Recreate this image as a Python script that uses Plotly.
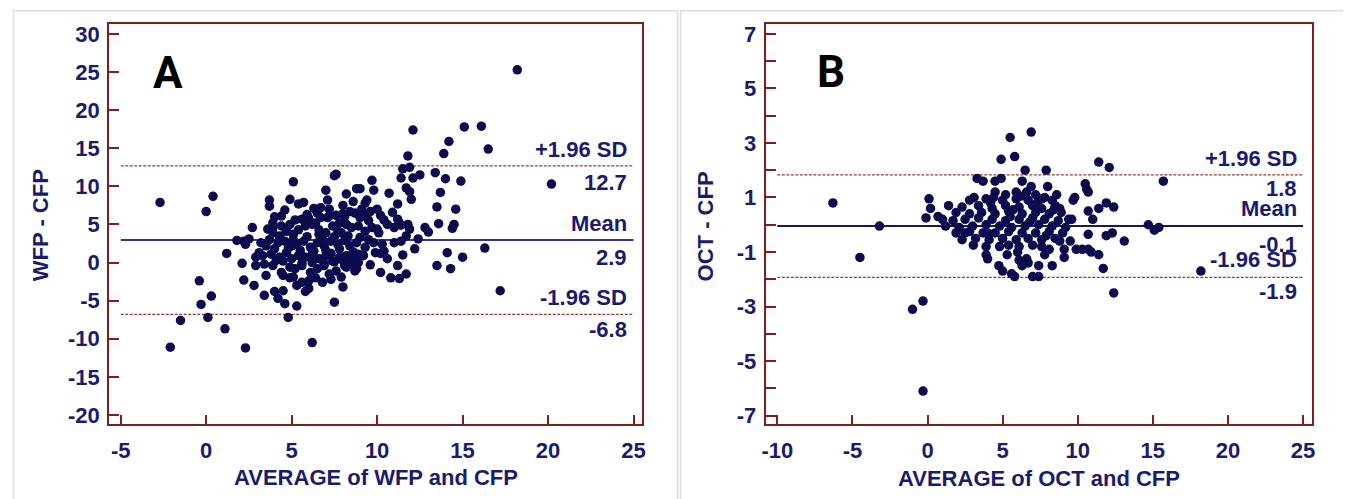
import plotly.graph_objects as go

# The page body has an 8px margin, so the figure is 8px smaller than the window
W, H = 1343, 491

# ---------------- Panel A : WFP vs CFP (average, difference) ----------------
points_a = [
    (-2.7, 7.9), (-2.1, -11.1), (-1.5, -7.6), (2.3, -11.2), (6.2, -10.5), (18.2, 25.3),
    (15.1, 17.8), (16.1, 17.9), (16.5, 14.9), (20.2, 10.3), (14.9, 10.7), (14.6, 7.0),
    (14.5, 5.0), (14.4, 4.5), (16.3, 1.9), (15.0, 0.7), (17.2, -3.7),
    (12.1, 17.4), (14.2, 15.9), (13.9, 14.3), (11.8, 14.0), (11.5, 12.3), (11.9, 12.5),
    (11.4, 11.1), (12.1, 11.1), (12.5, 11.5), (13.4, 11.8), (14.0, 11.0), (11.7, 9.8),
    (11.9, 9.3), (12.0, 8.3), (13.7, 9.2), (13.5, 7.3), (13.6, 5.1), (11.2, 7.7),
    (10.7, 9.1), (9.7, 10.8), (9.8, 9.5), (9.4, 8.2), (8.8, 9.7), (9.0, 9.7), (8.2, 9.0),
    (7.5, 11.4), (7.6, 11.6), (7.0, 9.5), (7.1, 8.2), (6.7, 7.2), (5.1, 10.6), (3.7, 8.2),
    (3.7, 7.4), (4.6, 6.9), (5.4, 7.7), (2.7, 4.6), (1.8, 2.9), (2.2, 2.8), (2.5, 3.1),
    (1.2, 1.2), (2.1, -0.1), (2.2, -2.3), (2.8, -3.0), (3.4, -4.3), (4.0, -3.8), (4.5, -3.7),
    (4.2, -4.7), (4.6, -5.4), (3.5, -1.7), (5.3, -5.7), (5.8, -3.8), (6.0, -3.4), (7.5, -5.2),
    (8.0, -3.2), (8.7, -1.1), (8.8, -0.8), (10.2, -1.3), (10.8, -2.0), (11.3, -2.1),
    (11.7, -1.5), (11.2, -0.4), (10.6, 0.5), (10.4, 1.5), (10.2, 1.2), (11.5, 1.0),
    (12.2, 1.8), (12.4, 3.1), (11.2, 5.7), (11.3, 5.2), (11.8, 5.0), (11.9, 4.4), (11.7, 3.5),
    (12.8, 4.6), (13.0, 4.0), (14.1, 1.3), (13.5, -0.4), (14.3, -0.8),
    (0.4, 8.7), (0.0, 6.7), (-0.4, -2.4), (0.3, -4.4), (-0.3, -5.5), (0.1, -7.2), (1.1, -8.7),
    (4.8, -7.2),
    (7.6, 6.2), (8.0, 6.4), (8.4, 6.7), (8.7, 6.5), (9.1, 7.0), (9.4, 6.2), (9.6, 6.7),
    (7.2, 6.1), (6.7, 5.9), (5.9, 6.3), (5.6, 5.7), (5.2, 5.6), (3.9, 5.2), (4.4, 4.8),
    (3.9, 3.9), (4.3, 3.5), (4.7, 4.1), (5.1, 3.7), (5.4, 4.3), (5.8, 4.8), (6.2, 5.0),
    (6.6, 4.3), (7.0, 3.9), (7.4, 4.8), (7.8, 5.2), (8.2, 5.0), (8.5, 4.6), (8.9, 4.8),
    (9.3, 4.1), (9.7, 4.6), (10.1, 3.9), (10.6, 5.0), (11.0, 4.6), (11.4, 4.9),
    (3.7, 3.0), (4.2, 2.6), (4.6, 2.8), (5.0, 2.2), (5.3, 2.4), (5.7, 2.8), (6.1, 2.0),
    (6.5, 2.6), (6.9, 2.2), (7.3, 2.8), (7.7, 2.4), (8.1, 2.9), (8.4, 2.2), (8.8, 2.6),
    (9.3, 2.0), (9.8, 2.6), (10.3, 2.4), (11.0, 2.6), (11.4, 2.8),
    (3.3, 0.9), (3.8, 1.1), (4.3, 0.7), (4.7, 1.3), (5.0, 0.5), (5.4, 0.9), (5.8, 0.7),
    (6.2, 1.1), (6.6, 0.5), (7.0, 0.9), (7.4, 0.2), (7.8, 0.7), (8.2, 0.9), (8.5, 0.5),
    (8.9, 1.1), (9.2, 0.9), (9.9, 1.3),
    (2.9, -0.4), (3.4, -0.2), (3.9, -0.4), (4.4, -1.3), (4.9, -0.6), (5.2, -0.8), (5.6, -0.4),
    (6.1, -1.3), (6.5, -0.8), (6.9, -0.4), (7.2, -1.5), (7.6, -1.1), (8.1, -0.4), (8.4, -0.2),
    (6.0, -2.4), (5.6, -2.6), (5.1, -1.9), (4.5, -1.7),
    (2.3, 2.4), (3.1, 1.3), (3.9, 4.6), (4.4, 6.1), (4.9, 5.0), (6.4, 5.2), (7.1, 5.9),
    (4.0, 1.8), (4.8, 1.9), (5.5, 1.6), (6.3, 1.5), (7.0, 1.6), (7.8, 1.8), (8.6, 1.4),
    (4.3, 3.2), (5.1, 3.0), (5.9, 3.4), (6.8, 3.1), (7.5, 3.4), (8.3, 3.5), (9.0, 3.3),
    (6.2, 0.0), (6.9, -0.1), (7.5, 0.1), (5.6, -0.1), (4.5, 0.2), (8.2, -0.6), (6.5, 6.5),
    (7.2, 7.0), (8.0, 7.5), (8.6, 8.0), (9.3, 7.8), (6.0, 5.8), (7.7, 4.2), (9.5, 5.5),
    (10.2, 6.2), (10.0, 7.0),
    (4.0, 6.0), (3.6, 4.4), (3.5, 2.2), (4.1, 0.3), (4.9, -2.0), (5.3, -3.0), (6.4, -2.0),
    (6.8, -2.6), (7.3, -2.2), (7.9, -1.9), (8.9, 0.0), (9.6, -0.3), (9.5, 3.0), (10.0, 4.4),
    (10.4, 5.6), (10.9, 6.6), (9.0, 5.9), (8.1, 6.0), (6.3, 7.1), (5.7, 7.9), (4.9, 8.3),
    (3.2, 2.6), (2.9, 0.7), (6.6, 3.7), (7.9, 3.9), (5.5, 1.1), (7.3, 1.2), (8.0, 0.3),
]
a_mean, a_upper, a_lower = 2.95, 12.7, -6.8
a_line_x = [-5, 25]
a_xticks = [-5, 0, 5, 10, 15, 20, 25]
a_yticks = [-20, -15, -10, -5, 0, 5, 10, 15, 20, 25, 30]
a_labels = [("+1.96 SD", a_upper, 16.5), ("12.7", a_upper, -16.5),
            ("Mean", a_mean, 16.5), ("2.9", a_mean, -17.5),
            ("-1.96 SD", a_lower, 16.5), ("-6.8", a_lower, -15.0)]

# ---------------- Panel B : OCT vs CFP ----------------
points_b = [
    (-6.3, 0.8), (-4.5, -1.2), (-1.0, -3.1), (-0.3, -2.8), (-0.3, -6.1), (15.7, 1.6),
    (18.2, -1.7), (14.7, 0.0), (15.1, -0.2), (15.4, -0.1),
    (5.5, 3.2), (6.9, 3.4), (4.9, 2.4), (5.8, 2.5), (6.5, 2.0), (7.9, 2.0), (3.3, 1.7),
    (3.7, 1.6), (4.5, 1.6), (4.9, 1.7), (6.3, 1.6), (6.9, 1.4), (8.0, 1.4), (11.4, 2.3),
    (12.1, 2.1), (10.5, 1.5), (10.6, 1.3), (10.7, 1.2), (9.8, 1.0), (9.7, 0.9), (0.1, 0.95),
    (0.2, 0.6), (-0.1, 0.25), (0.7, 0.3), (-3.2, -0.05), (3.1, 1.0), (4.5, 1.2), (5.2, 1.1),
    (5.9, 1.2), (6.6, 1.2), (7.2, 1.1), (7.8, 1.0), (8.4, 0.55), (8.8, 0.6), (11.4, 0.6),
    (11.9, 0.8), (12.4, 0.65), (10.7, 0.5), (11.0, 0.2), (9.6, 0.2), (10.7, -0.35),
    (11.9, -0.4), (12.3, -0.3), (13.1, -0.6), (9.9, -0.9), (10.3, -0.9), (10.7, -0.9),
    (10.9, -1.0), (11.4, -1.1), (11.7, -1.6), (12.4, -2.5), (9.1, -0.9), (9.1, -1.2),
    (8.8, -0.6), (8.3, -1.5), (7.4, -1.5), (7.0, -1.9), (7.4, -1.9), (6.6, -1.25),
    (6.7, -1.4), (6.1, -1.3), (6.3, -1.5), (5.6, -1.8), (5.8, -1.9), (4.75, -1.5),
    (5.0, -1.7), (3.9, -1.1), (4.0, -1.25), (3.9, -0.8), (3.05, -0.75), (7.8, -1.1),
    (8.1, -0.9),
    (1.4, 0.7), (2.3, 0.65), (3.4, 0.7), (4.3, 0.6), (5.2, 0.7), (6.1, 0.65), (7.0, 0.7),
    (7.6, 0.6), (8.5, 0.7),
    (1.9, 0.45), (2.8, 0.4), (3.6, 0.45), (4.5, 0.4), (5.4, 0.5), (6.3, 0.4), (7.2, 0.45),
    (8.1, 0.4), (8.9, 0.45),
    (1.0, 0.2), (1.7, 0.15), (2.5, 0.2), (3.4, 0.25), (4.3, 0.2), (5.2, 0.15), (6.1, 0.2),
    (7.0, 0.25), (7.8, 0.2), (8.7, 0.15), (9.4, 0.2),
    (1.2, -0.05), (2.1, -0.1), (3.0, -0.05), (3.9, 0.0), (4.8, -0.05), (5.6, -0.1),
    (6.5, -0.05), (7.4, 0.0), (8.3, -0.05), (9.2, -0.1),
    (1.9, -0.3), (2.8, -0.25), (3.7, -0.3), (4.5, -0.3), (5.4, -0.25), (6.3, -0.3),
    (7.2, -0.3), (8.1, -0.25), (9.0, -0.3),
    (2.3, -0.55), (3.2, -0.5), (4.1, -0.55), (5.0, -0.5), (5.9, -0.55), (6.7, -0.5),
    (7.6, -0.55), (8.5, -0.5),
    (4.8, -0.8), (5.4, -0.75), (6.1, -0.8), (7.0, -0.75), (7.6, -0.8),
    (2.8, 0.9), (3.9, 0.95), (5.0, 0.9), (5.9, 0.95), (6.7, 0.9), (7.6, 0.95), (8.3, 0.9),
    (4.4, 1.0), (5.5, 0.3), (6.8, 0.1), (4.0, -0.3), (6.0, -1.0), (5.3, -1.1), (7.9, -0.4),
    (8.6, 1.1), (6.2, 1.05), (9.5, -0.6), (2.5, -0.3), (4.2, 0.8), (7.3, 0.8), (5.7, 0.55),
]
b_mean, b_upper, b_lower = -0.05, 1.83, -1.93
b_line_x = [-10, 25]
b_xticks = [-10, -5, 0, 5, 10, 15, 20, 25]
b_yticks = [-7, -6, -5, -4, -3, -2, -1, 0, 1, 2, 3, 4, 5, 6, 7]
b_labels = [("+1.96 SD", b_upper, 16.7), ("1.8", b_upper, -14.0),
            ("Mean", b_mean, 18.0), ("-0.1", b_mean, -18.2),
            ("-1.96 SD", b_lower, 18.0), ("-1.9", b_lower, -13.8)]

# ---------------- styling ----------------
NAVY = "#1b1b6e"
DOT = "#0b0b4e"
FRAME = "#7d1f1f"
SDLINE = "#9c3a3a"
FONT = "Liberation Sans, Arial, sans-serif"
FS = 22
OFF = 8  # body margin of the page


def px_x(px):
    return (px - OFF) / W


def px_y(py):
    return 1 - (py - OFF) / H


fig = go.Figure()


def add_panel(points, mean, upper, lower, line_x, xa, ya, mean_color):
    xs = [p[0] for p in points]
    ys = [p[1] for p in points]
    for val in (upper, lower):
        fig.add_trace(go.Scatter(x=line_x, y=[val, val], mode="lines", xaxis=xa, yaxis=ya,
                                 line=dict(color=SDLINE, width=1.3, dash="3px,1.5px"),
                                 hoverinfo="skip", showlegend=False))
    fig.add_trace(go.Scatter(x=line_x, y=[mean, mean], mode="lines", xaxis=xa, yaxis=ya,
                             line=dict(color=mean_color, width=2), hoverinfo="skip",
                             showlegend=False))
    fig.add_trace(go.Scatter(x=xs, y=ys, mode="markers", xaxis=xa, yaxis=ya,
                             marker=dict(color=DOT, size=9.5, line=dict(width=0)),
                             showlegend=False))


add_panel(points_a, a_mean, a_upper, a_lower, a_line_x, "x", "y", "#2e3595")
add_panel(points_b, b_mean, b_upper, b_lower, b_line_x, "x2", "y2", "#16195e")


def tick_text(vals, show=None):
    out = []
    for v in vals:
        if show is not None and not show(v):
            out.append("")
        else:
            out.append(str(v))
    return out


common_axis = dict(showline=True, mirror=True, linecolor=FRAME, linewidth=2,
                   ticks="inside", tickcolor=FRAME, tickwidth=1.5, showgrid=False,
                   zeroline=False,
                   tickfont=dict(family=FONT, size=FS, color=NAVY, weight="bold"),
                   fixedrange=True)

y_dom = [px_y(427.2), px_y(21.7)]
fig.update_layout(
    width=W, height=H, autosize=False,
    margin=dict(l=0, r=0, t=0, b=0),
    paper_bgcolor="white", plot_bgcolor="white",
    xaxis=dict(domain=[px_x(105.7), px_x(641.7)], range=[-5.675, 25.52], anchor="y",
               tickvals=a_xticks, ticktext=tick_text(a_xticks), ticklen=9,
               ticklabelstandoff=6, **common_axis),
    yaxis=dict(domain=y_dom, range=[-21.2, 31.375], anchor="x",
               tickvals=a_yticks, ticktext=tick_text(a_yticks), ticklen=10,
               ticklabelstandoff=3, **common_axis),
    xaxis2=dict(domain=[px_x(765.7), px_x(1315)], range=[-10.77, 25.61], anchor="y2",
                tickvals=b_xticks, ticktext=tick_text(b_xticks), ticklen=9,
                ticklabelstandoff=6, **common_axis),
    yaxis2=dict(domain=y_dom, range=[-7.31, 7.38], anchor="x2",
                tickvals=b_yticks, ticktext=tick_text(b_yticks, lambda v: v % 2 != 0),
                ticklen=10, ticklabelstandoff=3, **common_axis),
)

ann = []
title_font = dict(family=FONT, size=FS, color=NAVY)
ann.append(dict(text="<b>AVERAGE of WFP and CFP</b>", x=px_x(373.7), y=px_y(481.7),
                xref="paper", yref="paper", showarrow=False, xanchor="center",
                yanchor="middle", font=title_font))
ann.append(dict(text="<b>AVERAGE of OCT and CFP</b>", x=px_x(1040.4), y=px_y(482.7),
                xref="paper", yref="paper", showarrow=False, xanchor="center",
                yanchor="middle", font=title_font))
ann.append(dict(text="<b>WFP - CFP</b>", x=px_x(36), y=px_y(226), xref="paper",
                yref="paper", showarrow=False, textangle=-90, xanchor="center",
                yanchor="middle", font=title_font))
ann.append(dict(text="<b>OCT - CFP</b>", x=px_x(705), y=px_y(226.7), xref="paper",
                yref="paper", showarrow=False, textangle=-90, xanchor="center",
                yanchor="middle", font=title_font))
letter_font = dict(family="Roboto, Arial, sans-serif", size=44, color="black")
ann.append(dict(text="<b>A</b>", x=0.110, y=0.877, xref="x domain", yref="y domain",
                showarrow=False, xanchor="center", yanchor="middle", font=letter_font))
ann.append(dict(text="<b>B</b>", x=0.1194, y=0.879, xref="x2 domain", yref="y2 domain",
                showarrow=False, xanchor="center", yanchor="middle", font=letter_font))

lab_font = dict(family=FONT, size=FS, color=NAVY)
for text, val, shift in a_labels:
    ann.append(dict(text=f"<b>{text}</b>", x=0.975, y=val, xref="x domain", yref="y",
                    yshift=shift, showarrow=False, xanchor="right", yanchor="middle",
                    font=lab_font))
for text, val, shift in b_labels:
    ann.append(dict(text=f"<b>{text}</b>", x=0.9758, y=val, xref="x2 domain", yref="y2",
                    yshift=shift, showarrow=False, xanchor="right", yanchor="middle",
                    font=lab_font))
fig.update_layout(annotations=ann)

# light grey panel borders of the original figure
shapes = [
    dict(type="rect", xref="paper", yref="paper", x0=px_x(9.5), x1=px_x(677), y0=-0.2,
         y1=px_y(8.8), line=dict(color="#dcdcdc", width=1.5)),
    dict(type="rect", xref="paper", yref="paper", x0=px_x(680), x1=px_x(1349), y0=-0.2,
         y1=px_y(8.8), line=dict(color="#dcdcdc", width=1.5)),
]
fig.update_layout(shapes=shapes)

fig.write_html("out.html")
